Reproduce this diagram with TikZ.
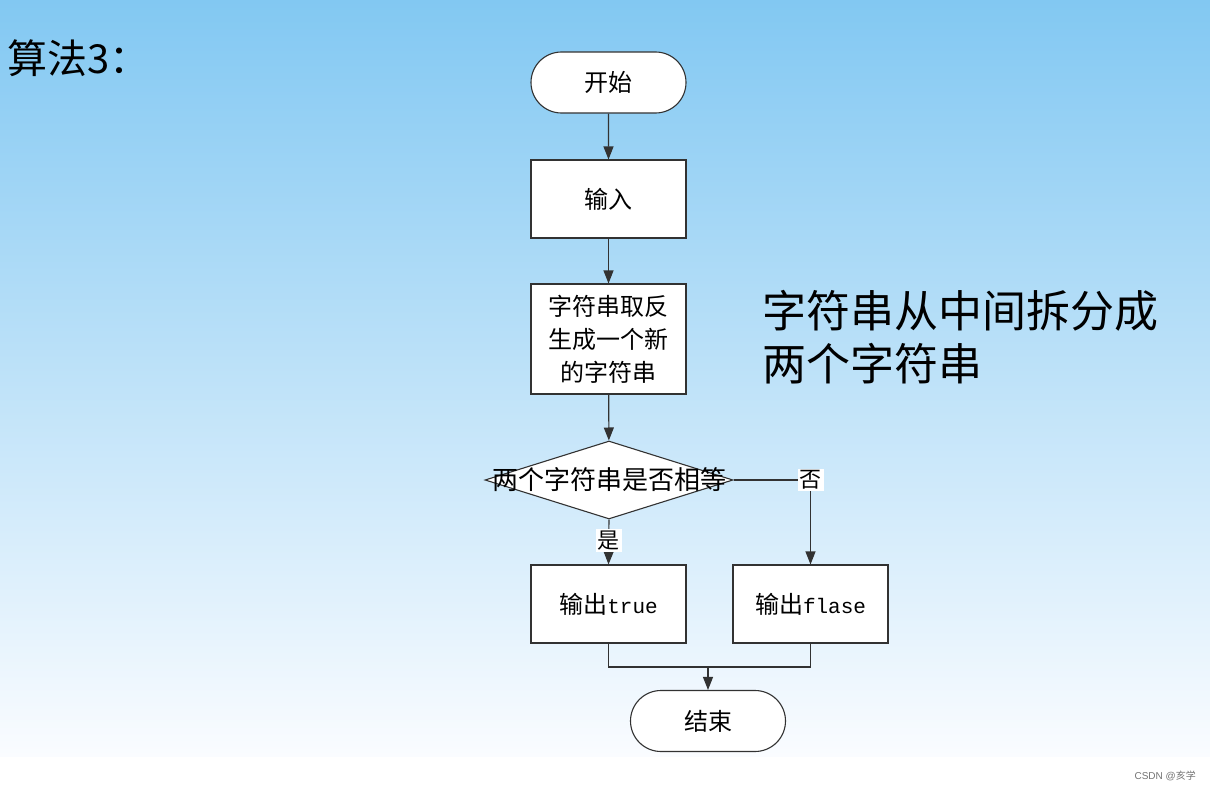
\documentclass[tikz,border=0pt]{standalone}
\usepackage{fontspec}
\setmainfont{Liberation Serif}
\newfontfamily\cjk{Noto Sans CJK SC}
\newfontfamily\monof{Liberation Mono}
\newfontfamily\wmfont{Liberation Sans}
\usetikzlibrary{shapes.misc,shapes.geometric,arrows.meta}
\definecolor{bgtop}{RGB}{130,200,242}
\definecolor{bgbot}{RGB}{250,252,255}
\definecolor{ln}{RGB}{50,50,50}
\tikzset{
  flowbox/.style={draw=ln,line width=1.1pt,fill=white,rectangle,minimum width=155pt,inner sep=0pt,align=center,font=\cjk\fontsize{24}{33}\selectfont},
  termbox/.style={draw=ln,line width=1.1pt,fill=white,rounded rectangle,minimum width=155pt,minimum height=61pt,inner sep=0pt,font=\cjk\fontsize{24}{30}\selectfont},
  decbox/.style={draw=ln,line width=1.1pt,fill=white,diamond,minimum width=248pt,minimum height=78pt,inner sep=0pt},
  conn/.style={draw=ln,line width=1.1pt},
  arr/.style={conn,-{Triangle[length=13pt,width=10pt]}},
  lbl/.style={fill=white,inner sep=2pt,font=\cjk\fontsize{22}{26}\selectfont}
}
\begin{document}
\begin{tikzpicture}[x=1pt,y=-1pt]
\useasboundingbox (0,0) rectangle (1210,792);
\fill[white] (0,0) rectangle (1210,792);
\shade[top color=bgtop,bottom color=bgbot] (0,0) rectangle (1210,756);
% title
\node[anchor=west,font=\cjk\fontsize{40}{44}\selectfont,inner sep=0pt] (title) at (7,58) {算法3：};
% side note
\node[anchor=north west,align=left,inner sep=0pt,font=\cjk\fontsize{44}{53}\selectfont] (note) at (762,290) {字符串从中间拆分成\\两个字符串};
% flow nodes
\node[termbox] (start) at (608.5,82.5) {开始};
\node[flowbox,minimum height=78pt] (in) at (608.5,199) {输入};
\node[flowbox,minimum height=110pt] (rev) at (608.5,339) {字符串取反\\生成一个新\\的字符串};
\node[decbox] (dec) at (609,480) {};
\node[font=\cjk\fontsize{26}{30}\selectfont,inner sep=0pt] (dect) at (609,480) {两个字符串是否相等};
\node[flowbox,minimum height=78pt] (ttrue) at (608.5,604) {输出{\monof\fontsize{21}{26}\selectfont true}};
\node[flowbox,minimum height=78pt] (tfalse) at (810.5,604) {输出{\monof\fontsize{21}{26}\selectfont flase}};
\node[termbox] (end) at (708,721) {结束};
\coordinate (j) at (708,667);
% connectors
\draw[arr] (start) -- (in);
\draw[arr] (in) -- (rev);
\draw[arr] (rev) -- (dec);
\draw[arr] (dec.south) -- node[lbl,pos=0.47] (yes) {是} (ttrue.north);
\draw[arr] (dec.east) -| node[lbl,pos=0.5] (no) {否} (tfalse.north);
\draw[conn] (ttrue.south) |- (j) -| (tfalse.south);
\draw[arr] (j) -- (end.north);
% watermark
\node[anchor=east,text=black!55,font=\wmfont\fontsize{10}{12}\selectfont,inner sep=0pt] (wm) at (1196,776) {CSDN @{\cjk 亥学}};
\end{tikzpicture}
\end{document}
